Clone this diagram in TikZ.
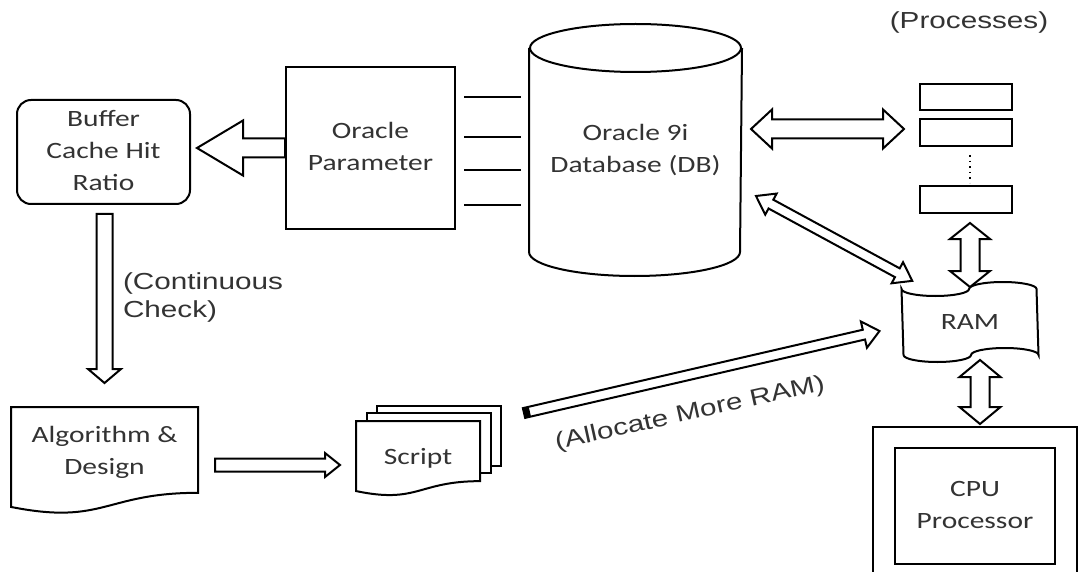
\documentclass[tikz,border=0pt]{standalone}
\usepackage{fontspec}
\setmainfont{Carlito}[FakeStretch=1.26]
\newfontfamily\notefont{Liberation Sans}[FakeStretch=1.28]
\usetikzlibrary{calc}

\tikzset{
  box/.style={draw, line width=1pt, inner sep=0pt},
  note/.style={font=\notefont\fontsize{11.6}{14}\selectfont, inner sep=0pt},
  fat arrow/.style n args={3}{to path={
    let \p1=($(\tikztotarget)-(\tikztostart)$),
        \n1={veclen(\x1,\y1)}, \n2={atan2(\y1,\x1)} in
    {[shift={(\tikztostart)}, rotate=\n2]
      (0pt,#1) -- ({\n1*1pt-#3},#1) -- ({\n1*1pt-#3},#2) -- ({\n1*1pt},0pt)
      -- ({\n1*1pt-#3},-#2) -- ({\n1*1pt-#3},-#1) -- (0pt,-#1) -- cycle}}},
  fat double arrow/.style n args={3}{to path={
    let \p1=($(\tikztotarget)-(\tikztostart)$),
        \n1={veclen(\x1,\y1)}, \n2={atan2(\y1,\x1)} in
    {[shift={(\tikztostart)}, rotate=\n2]
      (0pt,0pt) -- (#3,#2) -- (#3,#1) -- ({\n1*1pt-#3},#1) -- ({\n1*1pt-#3},#2)
      -- ({\n1*1pt},0pt) -- ({\n1*1pt-#3},-#2) -- ({\n1*1pt-#3},-#1)
      -- (#3,-#1) -- (#3,-#2) -- cycle}}},
  fat tail/.style={to path={
    let \p1=($(\tikztotarget)-(\tikztostart)$), \n2={atan2(\y1,\x1)} in
    {[shift={(\tikztostart)}, rotate=\n2]
      (0pt,#1) -- (3pt,#1) -- (3pt,-#1) -- (0pt,-#1) -- cycle}}},
}

% document outline with a wavy bottom edge, #2 = full height
\newcommand{\docoutline}[2]{%
  \draw (#1.north west) -- (#1.north east) -- ([yshift=-0.802*#2]#1.north east)
    .. controls ([yshift=-0.802*#2]#1.north) and ([yshift=-1.1075*#2]#1.north)
    .. ([yshift=-0.934*#2]#1.north west) -- cycle;}

\begin{document}
\begin{tikzpicture}[x=0.5pt, y=-0.5pt, line width=1pt, text=black!80,
  font=\fontsize{11.7}{16}\selectfont]
\useasboundingbox (0,0) rectangle (1080,572);

\node[note] (processes) at (969,22) {(Processes)};

\node[box, rounded corners=7pt, minimum width=86.5pt, minimum height=52pt] (buffer) at (103.5,152) {\begin{tabular}{c}
Buffer \\
Cache Hit \\
Ratio
\end{tabular}};

\node[box, minimum width=84.5pt, minimum height=81pt] (param) at (370.5,148) {\begin{tabular}{c}
Oracle \\
Parameter
\end{tabular}};

\node[inner sep=0pt, minimum width=105.5pt, minimum height=125pt] (db) at (635.5,150) {\raisebox{-6pt}{\begin{tabular}{c}
Oracle 9i \\
Database (DB)
\end{tabular}}};
\draw ([yshift=-12pt]db.north) ellipse [x radius=52.75pt, y radius=12pt];
\draw ([yshift=-12pt]db.north west) -- ([yshift=12pt]db.south west) arc[start angle=180, end angle=360, x radius=52.75pt, y radius=12pt] -- ([yshift=-12pt]db.north east);

\foreach \y in {97,137,170,205}
  \draw[shorten <=4pt, shorten >=4pt] (param.east |- 0,\y) -- (db.west |- 0,\y);

\draw (param.west) to[fat arrow={4.75pt}{13.75pt}{23pt}] ([xshift=3pt]buffer.east |- param.west);

% processes
\node[box, minimum width=46pt, minimum height=13pt] (proc1) at (966,97) {};
\node[box, minimum width=46pt, minimum height=13.5pt] (proc2) at (966,132.5) {};
\node[box, minimum width=46pt, minimum height=13.5pt] (proc3) at (966,199.5) {};
\draw[dotted, line width=0.8pt] ([shift={(2pt,-4pt)}]proc2.south) -- ([shift={(2pt,1pt)}]proc3.north);

% RAM as punched tape
\node[inner sep=0pt, minimum width=67.5pt, minimum height=32pt] (ram) at (970,322) {RAM};
\draw (ram.north west) arc[start angle=180, end angle=360, x radius=16.875pt, y radius=3.5pt]
  arc[start angle=180, end angle=0, x radius=16.875pt, y radius=3.5pt] -- (ram.south east)
  arc[start angle=0, end angle=180, x radius=16.875pt, y radius=3.5pt]
  arc[start angle=0, end angle=-180, x radius=16.875pt, y radius=3.5pt] -- cycle;

\node[minimum width=101pt, minimum height=72pt, inner sep=0pt] (cpu) at (975,500) {};
\draw (cpu.south west) -- (cpu.north west) -- (cpu.north east) -- (cpu.south east);
\node[box, minimum width=80pt, minimum height=58pt] (processor) at (975,506) {\begin{tabular}{c}
CPU \\
Processor
\end{tabular}};

\draw ([shift={(4.5pt,10.5pt)}]db.east) to[fat double arrow={4.75pt}{9.75pt}{10.5pt}] ([shift={(-7.5pt,1.75pt)}]proc2.west);
\draw ([shift={(7pt,-23pt)}]db.east) to[fat double arrow={2.5pt}{6pt}{8.5pt}] ([shift={(5.5pt,20.5pt)}]ram.west);
\draw ([shift={(2pt,-4.5pt)}]proc3.south) to[fat double arrow={4.75pt}{10pt}{8pt}] ([yshift=17.5pt]ram.center);
\draw ([shift={(5pt,-19pt)}]ram.center) to[fat double arrow={4.75pt}{10.25pt}{8.5pt}] ([shift={(2.5pt,1.5pt)}]cpu.north);

% algorithm and script
\node[inner sep=0pt, minimum width=92.5pt, minimum height=44pt] (alg) at (104.5,452) {\begin{tabular}{c}
Algorithm \& \\
Design
\end{tabular}};
\docoutline{alg}{53.5pt}

\node[inner sep=0pt, minimum width=61pt, minimum height=36pt] (script) at (418,458) {Script};
\docoutline{script}{37.5pt}
\draw ([xshift=5.5pt]script.north west) -- ++(0,4pt) -| ([shift={(5.5pt,{4pt-0.802*37.5pt})}]script.north east) -- ([yshift={4pt-0.802*37.5pt}]script.north east);
\draw ([shift={(10.5pt,4pt)}]script.north west) -- ++(0,3.5pt) -| ([shift={(10.5pt,{7.5pt-0.802*37.5pt})}]script.north east) -- ([shift={(5.5pt,{7.5pt-0.802*37.5pt})}]script.north east);

\draw ([yshift=-4.5pt]alg.north |- buffer.south) to[fat arrow={4pt}{8.25pt}{7pt}] ([yshift=12pt]alg.north);
\node[note, anchor=west, align=left] (check) at (122,297) {(Continuous\\Check)};

\draw ([shift={(8.5pt,-6.5pt)}]alg.east) to[fat arrow={3.25pt}{6pt}{7.5pt}] ([shift={(-8pt,-3.5pt)}]script.west);

\draw ([shift={(22pt,22.5pt)}]script.east) to[fat arrow={2.5pt}{6.75pt}{8pt}] ([shift={(-11pt,-4.5pt)}]ram.west);
\fill ([shift={(22pt,22.5pt)}]script.east) to[fat tail=2.5pt] ([shift={(-11pt,-4.5pt)}]ram.west);
\node[note, rotate=12.5] (allocate) at (690,414) {(Allocate More RAM)};
\end{tikzpicture}
\end{document}
